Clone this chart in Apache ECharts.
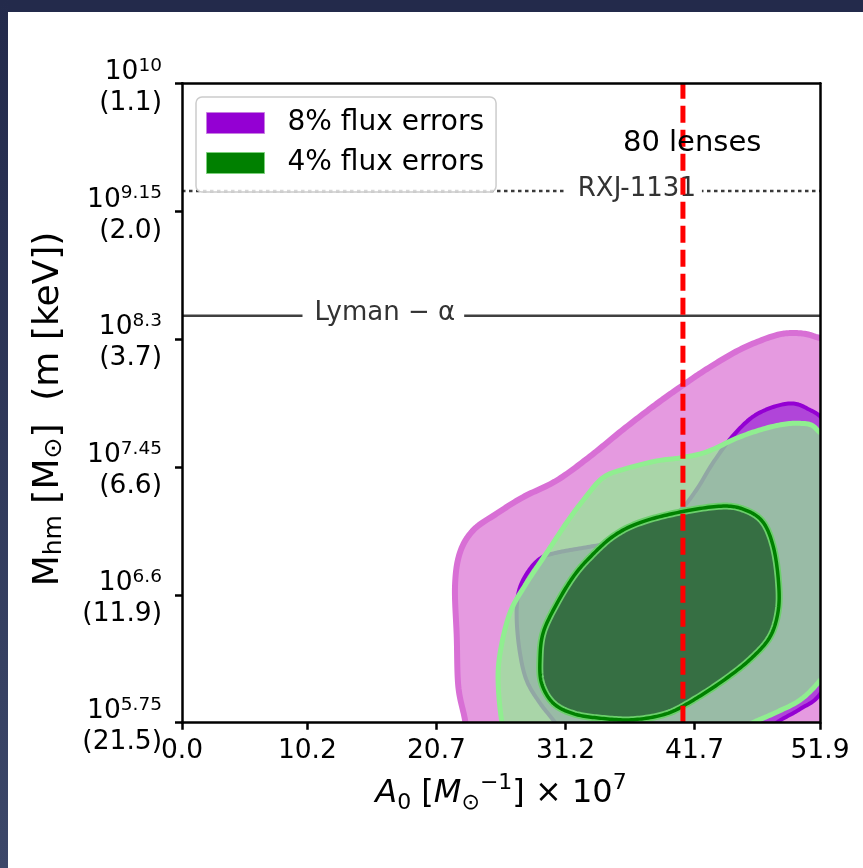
<!DOCTYPE html>
<html><head><meta charset="utf-8">
<script src="https://cdn.jsdelivr.net/npm/echarts@6/dist/echarts.min.js"></script>
<style>html,body{margin:0;padding:0;background:#fff}#c{width:863px;height:868px}</style>
</head><body><div id="c"></div>
<script>
// ---- axis ticks ----
const xTickValues = [0, 10.2, 20.7, 31.2, 41.7, 51.9];
const xTickLabels = ['0.0', '10.2', '20.7', '31.2', '41.7', '51.9'];
const yTickValues = [5.75, 6.6, 7.45, 8.3, 9.15, 10];          // log10 M_hm
const yTickExpLabels = ['5.75', '6.6', '7.45', '8.3', '9.15', '10'];
const yTickKeV = ['21.5', '11.9', '6.6', '3.7', '2.0', '1.1'];

// ---- contours: [A0 x 1e7, log10 M_hm] ----
const flux8Outer = [[23.3,5.6],[23.02,5.77],[22.48,5.99],[22.35,6.32],[22.21,6.66],[22.61,6.88],[23.70,7.03],[25.60,7.14],[27.76,7.25],[30.48,7.36],[33.19,7.52],[35.90,7.70],[38.62,7.87],[40.51,7.98],[42.68,8.10],[45.39,8.23],[48.10,8.32],[49.73,8.34],[51.35,8.32],[52.9,8.24],[54.5,7.9],[54.5,5.45],[24.0,5.45]];
const flux8Inner = [[30.8,5.70],[29.12,5.88],[28.04,6.03],[27.50,6.21],[27.23,6.43],[27.36,6.61],[28.04,6.74],[29.12,6.84],[30.48,6.88],[33.19,6.92],[35.90,6.96],[38.62,7.04],[40.51,7.16],[41.87,7.30],[43.22,7.48],[44.85,7.66],[46.75,7.80],[49.19,7.87],[50.82,7.84],[52.44,7.72],[53.53,7.32],[53.53,6.21],[51.90,5.94],[50.27,5.84],[48.38,5.75],[47.02,5.64],[46.0,5.5],[32.0,5.5]];
const flux4Outer = [[26.14,5.70],[25.73,5.99],[25.87,6.21],[26.68,6.48],[28.04,6.68],[29.67,6.88],[31.29,7.08],[32.65,7.23],[34.27,7.38],[36.18,7.44],[38.62,7.49],[40.51,7.51],[42.68,7.55],[45.39,7.65],[48.10,7.72],[50.27,7.74],[51.63,7.70],[52.71,7.50],[52.98,6.66],[52.44,6.12],[51.90,6.03],[50.27,5.90],[48.10,5.81],[46.21,5.74],[44.85,5.66],[44.0,5.5],[27.0,5.5]];
const flux4Inner = [[29.12,6.17],[29.39,6.35],[30.48,6.54],[31.83,6.72],[33.19,6.85],[35.09,6.99],[37.26,7.08],[40.51,7.15],[44.03,7.19],[45.94,7.16],[47.29,7.08],[48.10,6.92],[48.51,6.70],[48.51,6.50],[47.83,6.32],[46.21,6.17],[44.03,6.03],[41.59,5.90],[39.43,5.81],[36.71,5.77],[34.00,5.78],[31.83,5.81],[30.20,5.88],[29.26,6.01]];

// ---- reference lines ----
const rxjLogM = 9.284;
const lymanLogM = 8.455;
const a0Lenses = 40.75;
const rxjLabelX = 37.0;
const lymanLabelX = 16.5;
const lensesLabel = [41.5, 9.60];

const FONT = '"DejaVu Sans", sans-serif';
const chart = echarts.init(document.getElementById('c'));
const measureCtx = document.createElement('canvas').getContext('2d');

function nearestIdx(arr, v) {
  let b = 0;
  for (let i = 1; i < arr.length; i++) if (Math.abs(arr[i] - v) < Math.abs(arr[b] - v)) b = i;
  return b;
}

// closed Catmull-Rom curve through pixel points, sampled for drawing
function smoothClosed(pts, steps) {
  const n = pts.length, out = [];
  for (let i = 0; i < n; i++) {
    const p0 = pts[(i - 1 + n) % n], p1 = pts[i], p2 = pts[(i + 1) % n], p3 = pts[(i + 2) % n];
    const c1 = [p1[0] + (p2[0] - p0[0]) / 6, p1[1] + (p2[1] - p0[1]) / 6];
    const c2 = [p2[0] - (p3[0] - p1[0]) / 6, p2[1] - (p3[1] - p1[1]) / 6];
    for (let s = 0; s < steps; s++) {
      const t = s / steps, u = 1 - t;
      out.push([
        u*u*u*p1[0] + 3*u*u*t*c1[0] + 3*u*t*t*c2[0] + t*t*t*p2[0],
        u*u*u*p1[1] + 3*u*u*t*c1[1] + 3*u*t*t*c2[1] + t*t*t*p2[1]
      ]);
    }
  }
  return out;
}

function contourSeries(name, contours, styles) {
  return {
    type: 'custom', name: name, coordinateSystem: 'cartesian2d', z: 2,
    data: contours.map(c => c[0]),
    itemStyle: { color: styles[styles.length - 1].legend },
    silent: true,
    renderItem: function (params, api) {
      const i = params.dataIndex;
      const pts = smoothClosed(contours[i].map(p => api.coord(p)), 16);
      const st = styles[i];
      const cs = params.coordSys;
      const children = [{
        type: 'polygon', shape: { points: pts },
        style: { fill: st.fill, stroke: st.halo || st.stroke, lineWidth: st.haloWidth || st.width, lineJoin: 'round' }
      }];
      if (st.halo) {
        children.push({ type: 'polygon', shape: { points: pts },
          style: { fill: 'none', stroke: st.stroke, lineWidth: st.width, lineJoin: 'round' } });
      }
      return { type: 'group', clipPath: { type: 'rect', shape: { x: cs.x, y: cs.y, width: cs.width, height: cs.height } }, children };
    }
  };
}

const yMin = yTickValues[0], yMax = yTickValues[yTickValues.length - 1];
const xMin = xTickValues[0], xMax = xTickValues[xTickValues.length - 1];
const lineLabelTexts = ['RXJ-1131', 'Lyman − α'];
const lineLabelPads = [[12, 6], [12, 9]];
const LABEL_FONT = '26px ' + FONT;

const option = {
  backgroundColor: '#ffffff',
  animation: false,
  graphic: [
    { type: 'rect', left: 0, top: 0, shape: { width: 863, height: 12 }, style: { fill: '#232a4b' }, z: -10 },
    { type: 'rect', left: 0, top: 0, shape: { width: 8, height: 868 },
      style: { fill: new echarts.graphic.LinearGradient(0, 0, 0, 1, [{ offset: 0, color: '#232a4b' }, { offset: 1, color: '#3c4769' }]) }, z: -10 }
  ],
  grid: { left: 182, right: 43, top: 83.3, bottom: 145.3, containLabel: false },
  legend: {
    orient: 'vertical', left: 196, top: 97, z: 8,
    padding: [12, 12, 15, 10], itemWidth: 58, itemHeight: 21, itemGap: 12,
    borderColor: '#cccccc', borderWidth: 1.5, borderRadius: 6,
    backgroundColor: 'rgba(255,255,255,0.8)', icon: 'rect', selectedMode: false,
    textStyle: { fontSize: 28, fontFamily: FONT, color: '#000', padding: [0, 0, 0, 18] },
    data: [
      { name: '8% flux errors', itemStyle: { color: '#9400d3', borderColor: '#c77ee0', borderWidth: 1 } },
      { name: '4% flux errors', itemStyle: { color: '#008000', borderColor: '#7cd07c', borderWidth: 1 } }
    ]
  },
  xAxis: [{
    type: 'value', min: xMin, max: xMax, z: 10,
    name: '{i|A}{sub|0}{n| [}{i|M}{sub|⊙}{sup|−1}{n|] × 10}{sup|7}',
    nameLocation: 'middle', nameGap: 50,
    nameTextStyle: {
      fontFamily: FONT, fontSize: 32, color: '#000',
      rich: {
        n: { fontFamily: FONT, fontSize: 32, lineHeight: 42, color: '#000' },
        i: { fontFamily: FONT, fontSize: 32, fontStyle: 'italic', lineHeight: 42, color: '#000' },
        sub: { fontFamily: FONT, fontSize: 22, lineHeight: 22, verticalAlign: 'bottom', color: '#000' },
        sup: { fontFamily: FONT, fontSize: 22, lineHeight: 22, verticalAlign: 'top', color: '#000' }
      }
    },
    axisLine: { show: true, onZero: false, lineStyle: { color: '#000', width: 2.5 } },
    axisTick: { show: true, length: 7, lineStyle: { color: '#000', width: 2.5 }, customValues: xTickValues },
    axisLabel: {
      customValues: xTickValues, margin: 15, fontSize: 26.5, fontFamily: FONT, color: '#000',
      formatter: v => xTickLabels[nearestIdx(xTickValues, v)]
    },
    splitLine: { show: false }
  }, {
    type: 'value', min: xMin, max: xMax, position: 'top', z: 10,
    axisLine: { show: true, onZero: false, lineStyle: { color: '#000', width: 2.5 } },
    axisTick: { show: false }, axisLabel: { show: false }, splitLine: { show: false }
  }],
  yAxis: [{
    type: 'value', min: yMin, max: yMax, z: 10,
    name: 'M{sub|hm} [M{sub|⊙}]  (m [keV])',
    nameLocation: 'middle', nameGap: 115, nameRotate: 90,
    nameTextStyle: {
      fontFamily: FONT, fontSize: 36, color: '#000', padding: [0, 12, 0, 0],
      rich: {
        sub: { fontFamily: FONT, fontSize: 25, lineHeight: 25, verticalAlign: 'bottom', color: '#000' }
      }
    },
    axisLine: { show: true, onZero: false, lineStyle: { color: '#000', width: 2.5 } },
    axisTick: { show: true, length: 7, lineStyle: { color: '#000', width: 2.5 }, customValues: yTickValues },
    axisLabel: {
      customValues: yTickValues, margin: 20, color: '#000', padding: [8, 0, 0, 0],
      formatter: v => {
        const i = nearestIdx(yTickValues, v);
        return '{b|10}{s|' + yTickExpLabels[i] + '}\n{b|(' + yTickKeV[i] + ')}';
      },
      rich: {
        b: { fontFamily: FONT, fontSize: 26.5, lineHeight: 31, color: '#000' },
        s: { fontFamily: FONT, fontSize: 18.5, lineHeight: 18, verticalAlign: 'top', color: '#000' }
      }
    },
    splitLine: { show: false }
  }, {
    type: 'value', min: yMin, max: yMax, position: 'right', z: 10,
    axisLine: { show: true, onZero: false, lineStyle: { color: '#000', width: 2.5 } },
    axisTick: { show: false }, axisLabel: { show: false }, splitLine: { show: false }
  }],
  series: [
    contourSeries('8% flux errors', [flux8Outer, flux8Inner], [
      { fill: '#e59ae0', stroke: '#d86fd5', width: 6, legend: '#9400d3' },
      { fill: '#b045d9', stroke: '#9400d3', width: 4, legend: '#9400d3' }
    ]),
    contourSeries('4% flux errors', [flux4Outer, flux4Inner], [
      { fill: 'rgba(144,238,144,0.7)', stroke: '#90ee90', width: 5, legend: '#008000' },
      { fill: '#366f43', stroke: '#008000', width: 3.5, halo: '#6ccf6c', haloWidth: 7, legend: '#008000' }
    ]),
    {
      type: 'line', name: 'RXJ-1131', silent: true, symbol: 'none', z: 3,
      data: [[xMin, rxjLogM], [xMax, rxjLogM]],
      lineStyle: { color: '#3a3a3a', width: 2.6, type: [3.5, 3.5] }
    },
    {
      type: 'line', name: 'Lyman', silent: true, symbol: 'none', z: 3,
      data: [[xMin, lymanLogM], [xMax, lymanLogM]],
      lineStyle: { color: '#404040', width: 2.6, type: 'solid' }
    },
    {
      type: 'custom', name: 'lineLabels', silent: true, coordinateSystem: 'cartesian2d', z: 4,
      data: [[rxjLabelX, rxjLogM], [lymanLabelX, lymanLogM]],
      renderItem: function (params, api) {
        const p = api.coord([api.value(0), api.value(1)]);
        const txt = lineLabelTexts[params.dataIndex];
        const pad = lineLabelPads[params.dataIndex];
        measureCtx.font = LABEL_FONT;
        const w = measureCtx.measureText(txt).width;
        return { type: 'group', children: [
          { type: 'rect', z2: 0, shape: { x: p[0] - w / 2 - pad[0], y: p[1] - 16, width: w + pad[0] + pad[1], height: 30 }, style: { fill: '#ffffff', stroke: null } },
          { type: 'text', z2: 1, x: p[0], y: p[1] - 2,
            style: { text: txt, fill: '#333333', font: LABEL_FONT, align: 'center', verticalAlign: 'middle' } }
        ] };
      }
    },
    {
      type: 'line', name: 'A0', silent: true, symbol: 'none', z: 5,
      data: [[a0Lenses, yMin], [a0Lenses, yMax]],
      lineStyle: { color: '#ff0000', width: 5, type: [17, 7] }
    },
    {
      type: 'custom', name: 'lensLabel', silent: true, coordinateSystem: 'cartesian2d', z: 6,
      data: [lensesLabel],
      renderItem: function (params, api) {
        const p = api.coord([api.value(0), api.value(1)]);
        return { type: 'text', x: p[0], y: p[1],
          style: { text: '80 lenses', fill: '#000', font: '29px ' + FONT, align: 'center', verticalAlign: 'middle' } };
      }
    }
  ]
};
chart.setOption(option);
</script></body></html>
